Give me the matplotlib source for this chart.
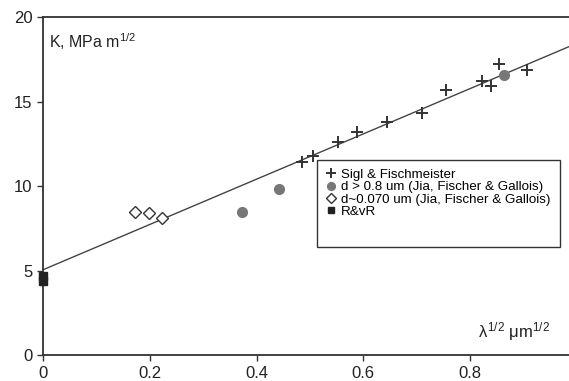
import numpy as np
import matplotlib.pyplot as plt
from matplotlib.patches import Rectangle

plt.rcParams['font.family'] = ['Liberation Sans', 'DejaVu Sans']
plt.rcParams['mathtext.fontset'] = 'custom'
plt.rcParams['mathtext.rm'] = 'Liberation Sans'
plt.rcParams['mathtext.it'] = 'Liberation Sans'

# Sigl & Fischmeister
sigl_x = [0.486, 0.505, 0.553, 0.589, 0.645, 0.710, 0.755, 0.822, 0.839, 0.854, 0.907]
sigl_y = [11.4, 11.8, 12.6, 13.2, 13.8, 14.3, 15.7, 16.2, 15.9, 17.2, 16.9]

# d > 0.8 um
big_x = [0.372, 0.443, 0.864]
big_y = [8.45, 9.8, 16.6]

# d~0.070 um
small_x = [0.172, 0.198, 0.222]
small_y = [8.45, 8.4, 8.1]

# R&vR
rvr_x = [0.0, 0.0]
rvr_y = [4.4, 4.7]

# linea de ajuste
intercepto = 5.05
pendiente = 13.4

fig = plt.figure(figsize=(5.69, 3.81), dpi=100)
ax = fig.add_axes([0.0756, 0.068, 0.924, 0.887])

xl = np.array([0.0, 1.0])
ax.plot(xl, intercepto + pendiente * xl, color='#444444', lw=1.0, zorder=2)

ax.plot(sigl_x, sigl_y, '+', color='#333333', ms=9, mew=1.4, ls='none',
        label='Sigl & Fischmeister', zorder=3)
ax.plot(big_x, big_y, 'o', color='#777777', ms=7, ls='none',
        label='d > 0.8 um (Jia, Fischer & Gallois)', zorder=3)
ax.plot(small_x, small_y, 'D', mfc='white', mec='#333333', ms=6, mew=1.0, ls='none',
        label='d~0.070 um (Jia, Fischer & Gallois)', zorder=3)
ax.plot(rvr_x, rvr_y, 's', color='#222222', ms=6, ls='none', label='R&vR',
        zorder=4, clip_on=False)

ax.set_xlim(0, 0.985)
ax.set_ylim(0, 20)
ax.set_xticks([0, 0.2, 0.4, 0.6, 0.8])
ax.set_xticklabels(['0', '0.2', '0.4', '0.6', '0.8'])
ax.set_yticks([0, 5, 10, 15, 20])

for s in ['left', 'bottom', 'top']:
    ax.spines[s].set_color('#333333')
    ax.spines[s].set_linewidth(1.3)
ax.spines['right'].set_visible(False)
ax.tick_params(direction='out', length=4, width=1, colors='#333333',
               labelsize=12, labelcolor='#222222')

ax.text(0.012, 18.2, r'K, MPa m$^{1/2}$', fontsize=11.5, color='#222222')
ax.text(0.815, 1.05, r'$\lambda^{1/2}$ $\mu$m$^{1/2}$', fontsize=12, color='#222222')

# caja de la leyenda (con espacio extra abajo, como en el original)
caja = Rectangle((0.557, 0.352), 0.427, 0.228, transform=fig.transFigure,
                 facecolor='white', edgecolor='#333333', lw=1.0, zorder=5,
                 clip_on=False)
ax.add_patch(caja)

leg = ax.legend(loc='upper left', bbox_to_anchor=(0.573, 0.557),
                bbox_transform=fig.transFigure, fontsize=9.6, markerscale=0.8,
                frameon=False, handlelength=0.8, handletextpad=0.35,
                borderpad=0, labelspacing=0.0, borderaxespad=0)
leg.set_zorder(6)

plt.savefig('out.png', dpi=100)
